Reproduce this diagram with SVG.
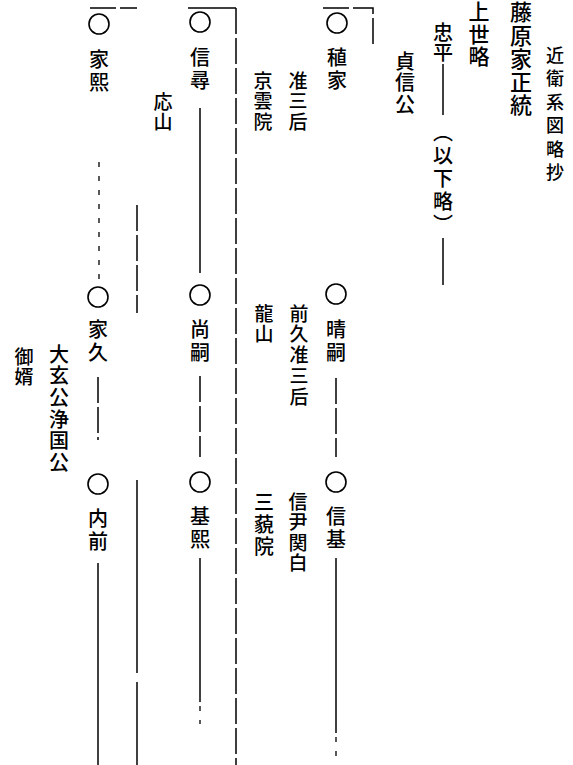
<svg xmlns="http://www.w3.org/2000/svg" width="573" height="765" viewBox="0 0 573 765">
<style>
text{font-family:"Noto Sans CJK JP","Noto Sans CJK SC",sans-serif;writing-mode:vertical-rl;fill:#000;font-size:20px;letter-spacing:3px;font-weight:500}
.s19{font-size:19px;letter-spacing:1.5px}
.ln{stroke:#000;stroke-width:1.5;fill:none}
.dl{stroke:#000;stroke-width:1.5;fill:none;stroke-dasharray:26 4}
.dt{stroke:#000;stroke-width:1.3;fill:none;stroke-dasharray:5 9}
.c{stroke:#000;stroke-width:1.6;fill:none}
</style>
<rect width="573" height="765" fill="#fff"/>
<g id="connectors">
<line class="ln" x1="443" y1="64" x2="443" y2="115"/>
<line class="ln" x1="443" y1="238" x2="443" y2="285"/>
<polyline class="dl" points="323,8 373,8 373,46"/>
<polyline class="ln" points="188,8 236,8"/>
<line class="dl" x1="236" y1="8" x2="236" y2="765"/>
<line class="dl" x1="90" y1="8" x2="137" y2="8"/>
<line class="ln" x1="200" y1="108" x2="200" y2="273"/>
<line class="dt" x1="99" y1="162" x2="99" y2="280"/>
<line class="dl" x1="137" y1="205" x2="137" y2="313"/>
<line class="ln" x1="137" y1="480" x2="137" y2="673"/>
<line class="ln" x1="137" y1="682" x2="137" y2="765"/>
<line class="dl" x1="336" y1="378" x2="336" y2="457"/>
<line class="dl" x1="200" y1="376" x2="200" y2="457"/>
<line class="dl" x1="98" y1="377" x2="98" y2="440"/>
<line class="ln" x1="336" y1="558" x2="336" y2="733"/>
<line class="dt" x1="336" y1="737" x2="336" y2="765"/>
<line class="ln" x1="200" y1="558" x2="200" y2="702"/>
<line class="dt" x1="200" y1="706" x2="200" y2="724"/>
<line class="ln" x1="98" y1="563" x2="98" y2="765"/>
</g>
<g id="title"><text x="555" y="46" style="font-size:18px;letter-spacing:5.5px">近衛系図略抄</text></g>
<g id="header"><text x="521" y="1" style="font-size:22px;letter-spacing:1.2px">藤原家正統</text></g>
<g id="jousei"><text x="479" y="1" style="font-size:21px;letter-spacing:1.5px">上世略</text></g>
<g id="tadahira"><text x="443" y="22" style="letter-spacing:0">忠平</text><text x="443" y="122">（以下略）</text></g>
<g id="teishinko"><text x="405" y="51" style="letter-spacing:1.5px">貞信公</text></g>
<g id="taneie"><circle class="c" cx="337" cy="23" r="10"/><text x="337" y="47">稙家</text><text class="s19" x="298" y="71">准三后</text><text class="s19" x="263" y="71">京雲院</text></g>
<g id="nobuhiro"><circle class="c" cx="200" cy="22" r="10"/><text x="200" y="47">信尋</text><text class="s19" x="163" y="92">応山</text></g>
<g id="iehiro"><circle class="c" cx="99" cy="24" r="10"/><text x="99" y="49">家熙</text></g>
<g id="haretsugu"><circle class="c" cx="336" cy="294" r="10"/><text x="336" y="319">晴嗣</text><text x="299" y="304" style="font-size:19px;letter-spacing:1.7px">前久准三后</text><text class="s19" x="264" y="304">龍山</text></g>
<g id="hisatsugu"><circle class="c" cx="200" cy="295" r="10"/><text x="200" y="319">尚嗣</text></g>
<g id="iehisa"><circle class="c" cx="98" cy="297" r="10"/><text x="98" y="319">家久</text><text x="59" y="344" style="letter-spacing:1.7px">大玄公浄国公</text><text class="s19" x="24" y="347">御婿</text></g>
<g id="nobumoto"><circle class="c" cx="336" cy="482" r="10"/><text x="336" y="506">信基</text><text class="s19" x="298" y="492">信尹関白</text><text x="264" y="492" style="letter-spacing:2px">三藐院</text></g>
<g id="motohiro"><circle class="c" cx="200" cy="482" r="10"/><text x="200" y="506">基熙</text></g>
<g id="uchisaki"><circle class="c" cx="98" cy="484" r="10"/><text x="98" y="508">内前</text></g>
</svg>
